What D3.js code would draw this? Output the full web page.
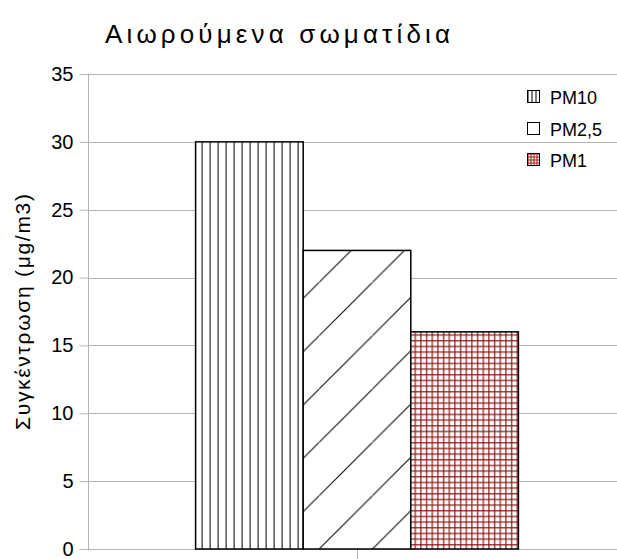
<!DOCTYPE html>
<html>
<head>
<meta charset="utf-8">
<script src="https://cdn.jsdelivr.net/npm/d3@7"></script>
<style>
  html, body { margin: 0; padding: 0; background: #ffffff; }
  svg { display: block; font-family: "Liberation Sans", Arial, sans-serif; }
</style>
</head>
<body>
<svg id="chart" width="617" height="559"></svg>
<script>
// Particulate matter concentrations
const categories = [""];
const seriesNames = ["PM10", "PM2,5", "PM1"];
const seriesValues = [30, 22, 16];
const yTicks = [0, 5, 10, 15, 20, 25, 30, 35];
const titleText = "Αιωρούμενα σωματίδια";
const yAxisTitle = "Συγκέντρωση (μg/m3)";

const svg = d3.select("#chart");
const W = 617, H = 559;
const plot = { left: 88, right: 626, top: 74, bottom: 549 };

const x0 = d3.scaleBand().domain(categories)
  .range([plot.left, plot.right]).paddingInner(0).paddingOuter(1 / 3);
const x1 = d3.scaleBand().domain(seriesNames)
  .range([0, x0.bandwidth()]).padding(0);
const y = d3.scaleLinear().domain([0, 35]).range([plot.bottom, plot.top]);

const gridColor = "#b3b3b3";
const defs = svg.append("defs");

// Hatch fills, anchored to each bar's position
const barLeft = name => x0(categories[0]) + x1(name);

// vertical lines
const pVert = defs.append("pattern").attr("id", "hatch-vert")
  .attr("patternUnits", "userSpaceOnUse")
  .attr("width", 8).attr("height", 10)
  .attr("x", barLeft("PM10") + 6).attr("y", 0);
pVert.append("rect").attr("width", 8).attr("height", 10).attr("fill", "#fff");
pVert.append("line").attr("x1", 0.5).attr("x2", 0.5).attr("y1", 0).attr("y2", 10)
  .attr("stroke", "#000").attr("stroke-width", 1);

// diagonal lines
const dS = 53.33;
const pDiag = defs.append("pattern").attr("id", "hatch-diag")
  .attr("patternUnits", "userSpaceOnUse")
  .attr("width", dS).attr("height", dS)
  .attr("patternTransform", `translate(${barLeft("PM2,5") + 16 - dS},${plot.bottom - dS})`);
pDiag.append("rect").attr("width", dS).attr("height", dS).attr("fill", "#fff");
pDiag.append("line").attr("x1", -1).attr("y1", dS + 1).attr("x2", dS + 1).attr("y2", -1)
  .attr("stroke", "#000").attr("stroke-width", 1);

// red crosshatch grid
const gS = 5.667;
const pGrid = defs.append("pattern").attr("id", "hatch-grid")
  .attr("patternUnits", "userSpaceOnUse")
  .attr("width", gS).attr("height", gS)
  .attr("x", barLeft("PM1") + 3.7).attr("y", 425);
pGrid.append("rect").attr("width", gS).attr("height", gS).attr("fill", "#fff");
pGrid.append("line").attr("x1", 0.7).attr("x2", 0.7).attr("y1", 0).attr("y2", gS)
  .attr("stroke", "#8e0e0e").attr("stroke-width", 1.5).attr("stroke-opacity", 0.8);
pGrid.append("line").attr("y1", 0.7).attr("y2", 0.7).attr("x1", 0).attr("x2", gS)
  .attr("stroke", "#8e0e0e").attr("stroke-width", 1.5).attr("stroke-opacity", 0.8);

// legend-sized versions
function legendPatterns() {
  const lv = defs.append("pattern").attr("id", "leg-vert")
    .attr("patternUnits", "objectBoundingBox").attr("width", 1 / 3).attr("height", 1);
  lv.append("rect").attr("width", 4).attr("height", 12).attr("fill", "#fff");
  lv.append("line").attr("x1", 0.5).attr("x2", 0.5).attr("y1", 0).attr("y2", 12)
    .attr("stroke", "#000").attr("stroke-width", 1);
  const lg = defs.append("pattern").attr("id", "leg-grid")
    .attr("patternUnits", "objectBoundingBox").attr("width", 0.25).attr("height", 0.25);
  lg.append("rect").attr("width", 3).attr("height", 3).attr("fill", "#fff");
  lg.append("line").attr("x1", 0.5).attr("x2", 0.5).attr("y1", 0).attr("y2", 3)
    .attr("stroke", "#a01414").attr("stroke-width", 1);
  lg.append("line").attr("y1", 0.5).attr("y2", 0.5).attr("x1", 0).attr("x2", 3)
    .attr("stroke", "#a01414").attr("stroke-width", 1);
}
legendPatterns();

const fills = { "PM10": "url(#hatch-vert)", "PM2,5": "url(#hatch-diag)", "PM1": "url(#hatch-grid)" };
const legendFills = { "PM10": "url(#leg-vert)", "PM2,5": "#fff", "PM1": "url(#leg-grid)" };

// gridlines
svg.append("g").selectAll("line").data(yTicks).join("line")
  .attr("x1", plot.left).attr("x2", W)
  .attr("y1", d => Math.round(y(d)) + 0.5).attr("y2", d => Math.round(y(d)) + 0.5)
  .attr("stroke", gridColor).attr("stroke-width", 1);

// y axis
const yAxis = d3.axisLeft(y).tickValues(yTicks).tickSize(9).tickPadding(6);
const gy = svg.append("g").attr("transform", `translate(${plot.left + 0.5},0)`).call(yAxis);
gy.select(".domain").attr("stroke", gridColor).attr("d", `M0,${plot.top}V${plot.bottom}`);
gy.selectAll(".tick line").attr("stroke", gridColor);
gy.selectAll(".tick text").attr("fill", "#000").attr("font-size", 20)
  .attr("font-family", "Liberation Sans, Arial, sans-serif");

// x axis
const gx = svg.append("g").attr("transform", `translate(0,${plot.bottom + 0.5})`)
  .call(d3.axisBottom(x0).tickSize(10).tickFormat(""));
gx.select(".domain").attr("stroke", gridColor).attr("d", `M${plot.left},0H${W}`);
gx.selectAll(".tick line").attr("stroke", gridColor)
  .attr("transform", "translate(0.5,0)");

// bars
svg.append("g").selectAll("rect")
  .data(seriesNames.map((n, i) => ({ name: n, value: seriesValues[i] })))
  .join("rect")
  .attr("x", d => barLeft(d.name))
  .attr("width", x1.bandwidth())
  .attr("y", d => y(d.value))
  .attr("height", d => y(0) - y(d.value))
  .attr("fill", d => fills[d.name])
  .attr("stroke", "#000").attr("stroke-width", 1.5);

// legend
const legendY = [97, 129, 160];
const lg = svg.append("g");
seriesNames.forEach((n, i) => {
  lg.append("rect").attr("x", 527.5).attr("y", legendY[i] - 6.5)
    .attr("width", 12).attr("height", 12)
    .attr("fill", legendFills[n]).attr("stroke", "#000").attr("stroke-width", 1);
  lg.append("text").attr("x", 550).attr("y", legendY[i] + 6.5)
    .attr("font-size", 18).attr("fill", "#000").text(n);
});

// title
svg.append("text").attr("x", 105).attr("y", 43)
  .attr("font-size", 26).attr("fill", "#000")
  .attr("textLength", 345).attr("lengthAdjust", "spacing")
  .text(titleText);

// y axis title
svg.append("text")
  .attr("transform", `translate(30,${312}) rotate(-90)`)
  .attr("text-anchor", "middle")
  .attr("font-size", 21).attr("fill", "#000")
  .attr("textLength", 236).attr("lengthAdjust", "spacing")
  .text(yAxisTitle);
</script>
</body>
</html>
